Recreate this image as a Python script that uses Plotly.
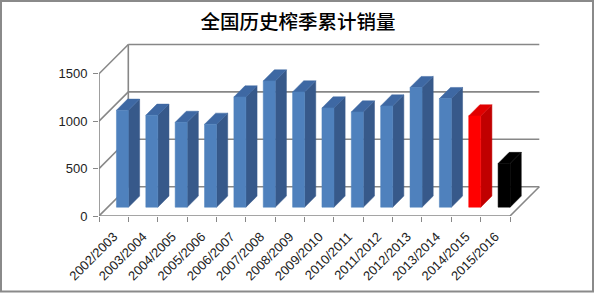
import plotly.graph_objects as go

# ---------------- data ----------------
seasons = ["2002/2003", "2003/2004", "2004/2005", "2005/2006", "2006/2007",
           "2007/2008", "2008/2009", "2009/2010", "2010/2011", "2011/2012",
           "2012/2013", "2013/2014", "2014/2015", "2015/2016"]
sales = [1023, 970, 895, 875, 1163, 1332, 1216, 1047, 1005, 1068, 1262, 1146, 963, 461]
y_ticks = [0, 500, 1000, 1500]
title_text = "全国历史榨季累计销量"

# ---------------- style / geometry ----------------
W, H = 596, 293
ML, MR, MT, MB = 99, 51, 40, 77
PX_PER_CAT = 29.357
PX_PER_VAL = 0.0948
n = len(seasons)
plot_w = W - ML - MR
plot_h = H - MT - MB
x_min = -0.5
x_max = x_min + plot_w / PX_PER_CAT
y_max = plot_h / PX_PER_VAL
DEPTH_PX = 29.3
DX = DEPTH_PX / PX_PER_CAT          # depth offset in category units
DY = DEPTH_PX / PX_PER_VAL          # depth offset in value units
wall_top = y_ticks[-1]
F1, F2 = 0.30, 0.68                 # bar front / back depth fractions
HALF_W = 0.205                      # half bar width (category units)
LINE_C = "#878787"
LINE_W = 1.6

face_colors = ["#4F81BD"] * (n - 2) + ["#FF0000", "#000000"]
side_colors = ["#37598A"] * (n - 2) + ["#C00000", "#000000"]
top_colors = ["#3E68A3"] * (n - 2) + ["#E00000", "#000000"]

fig = go.Figure()


def seg(xs, ys):
    fig.add_trace(go.Scatter(x=xs, y=ys, mode="lines", hoverinfo="skip",
                             line=dict(color=LINE_C, width=LINE_W),
                             showlegend=False))


x_left = -0.5
x_right = n - 0.5
# back wall horizontal gridlines + side wall diagonals
for t in y_ticks:
    seg([x_left + DX, x_right + DX], [t + DY, t + DY])
    seg([x_left, x_left + DX], [t, t + DY])
# back wall left edge and side wall front edge (front value axis)
seg([x_left + DX, x_left + DX], [DY, wall_top + DY])
seg([x_left, x_left], [0, wall_top])
# floor: front edge and right edge
seg([x_left, x_right], [0, 0])
seg([x_right, x_right + DX], [0, DY])

# bars (front, side, top faces)
for i, v in enumerate(sales):
    xl = i - HALF_W + F1 * DX
    xr = i + HALF_W + F1 * DX
    b1 = F1 * DY
    b2 = F2 * DY
    ddx = (F2 - F1) * DX
    # side face
    fig.add_trace(go.Scatter(
        x=[xr, xr + ddx, xr + ddx, xr, xr],
        y=[b1, b2, v + b2, v + b1, b1],
        fill="toself", fillcolor=side_colors[i], mode="lines",
        line=dict(width=0.5, color=side_colors[i]), hoverinfo="skip", showlegend=False))
    # top face
    fig.add_trace(go.Scatter(
        x=[xl, xr, xr + ddx, xl + ddx, xl],
        y=[v + b1, v + b1, v + b2, v + b2, v + b1],
        fill="toself", fillcolor=top_colors[i], mode="lines",
        line=dict(width=0.5, color=top_colors[i]), hoverinfo="skip", showlegend=False))
    # front face
    fig.add_trace(go.Scatter(
        x=[xl, xr, xr, xl, xl],
        y=[b1, b1, v + b1, v + b1, b1],
        fill="toself", fillcolor=face_colors[i], mode="lines",
        line=dict(width=0.5, color=face_colors[i]), hoverinfo="skip", showlegend=False))

fig.update_layout(
    width=W, height=H,
    margin=dict(l=ML, r=MR, t=MT, b=MB),
    paper_bgcolor="white", plot_bgcolor="white",
    title=dict(text=title_text, x=0.5, xanchor="center", y=1 - 22.5 / H, yanchor="middle",
               font=dict(family="Noto Sans CJK SC", size=19.5, color="#000000", weight=500)),
    font=dict(family="Liberation Sans", size=12, color="#222222"),
    showlegend=False,
    xaxis=dict(range=[x_min, x_max], showgrid=False, zeroline=False, showline=False,
               automargin=False,
               tickmode="array", tickvals=list(range(n)), ticktext=seasons,
               tickangle=-45, ticks="outside", ticklen=0, tickcolor="rgba(0,0,0,0)",
               ticklabelstandoff=7,
               tickfont=dict(size=13, color="#222222"),
               minor=dict(tickmode="array", tickvals=[k - 0.5 for k in range(n + 1)],
                          ticks="outside", ticklen=5, tickcolor=LINE_C, tickwidth=1.2,
                          showgrid=False)),
    yaxis=dict(range=[0, y_max], showgrid=False, zeroline=False, showline=False,
               automargin=False,
               tickmode="array", tickvals=y_ticks, ticks="outside", ticklen=5,
               tickcolor=LINE_C, tickwidth=1.2, ticklabelstandoff=3,
               tickfont=dict(size=13, color="#222222")),
)
# outer chart border
fig.add_shape(type="rect", xref="paper", yref="paper",
              x0=-ML / plot_w + 1 / plot_w, x1=1 + (MR - 3) / plot_w,
              y0=-(MB - 1.5) / plot_h, y1=1 + (MT - 1) / plot_h,
              line=dict(color="#8A8A8A", width=2), layer="below")

fig.write_html("out.html")
